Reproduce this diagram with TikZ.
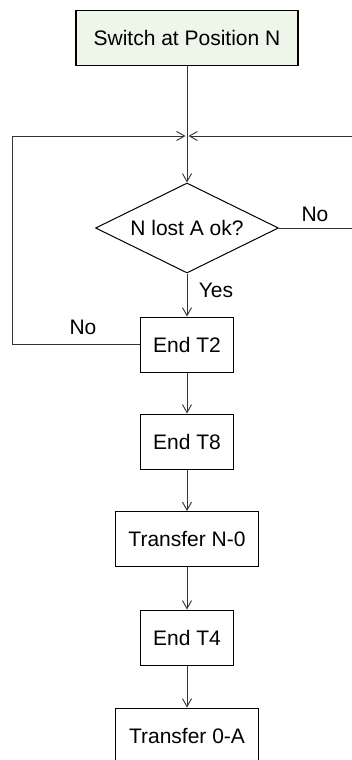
\documentclass[tikz,border=0pt]{standalone}
\usepackage{fontspec}
\setmainfont{Liberation Sans}
\usetikzlibrary{shapes.geometric,arrows.meta}
\definecolor{startfill}{RGB}{238,246,233}
\definecolor{linecol}{RGB}{51,51,51}
\begin{document}
\begin{tikzpicture}[x=1pt,y=-1pt,
  every node/.style={font=\fontsize{21}{25}\selectfont, text=black},
  procbox/.style={draw=black, line width=1pt, rectangle, inner sep=0pt, minimum height=55pt},
  startbox/.style={procbox, fill=startfill, line width=1.2pt, minimum width=222pt},
  decbox/.style={draw=black, line width=1pt, diamond, aspect=2.03, inner sep=0pt, minimum width=183pt, minimum height=90pt},
  conn/.style={draw=linecol, line width=0.9pt, -{Straight Barb[length=8pt,width=9pt]}},
  lbl/.style={inner sep=0pt}]
\useasboundingbox (0,0) rectangle (351,760);
\node[startbox] (start) at (187,38) {Switch at Position N};
\node[decbox] (dec) at (187,228) {N lost A ok?};
\node[procbox, minimum width=93pt] (t2) at (187,344.5) {End T2};
\node[procbox, minimum width=93pt] (t8) at (187,441.5) {End T8};
\node[procbox, minimum width=143pt] (tn0) at (187,539) {Transfer N-0};
\node[procbox, minimum width=93pt] (t4) at (187,637.5) {End T4};
\node[procbox, minimum width=143pt] (t0a) at (187,735.5) {Transfer 0-A};
\coordinate (jl) at (185.5,136);
\coordinate (jr) at (188.5,136);
\coordinate (lc1) at (12,344.5);
\coordinate (lc2) at (12,136);
\coordinate (rc1) at (370,228);
\coordinate (rc2) at (370,136);
\draw[conn] (start.south) -- (dec.north);
\draw[conn] (dec.south) -- (t2.north);
\draw[conn] (t2.south) -- (t8.north);
\draw[conn] (t8.south) -- (tn0.north);
\draw[conn] (tn0.south) -- (t4.north);
\draw[conn] (t4.south) -- (t0a.north);
\draw[conn] (t2.west) -- (lc1) -- (lc2) -- (jl);
\draw[conn] (dec.east) -- (rc1) -- (rc2) -- (jr);
\node[lbl] (yes) at (216,290) {Yes};
\node[lbl] (noright) at (315,214) {No};
\node[lbl] (noleft) at (83,327) {No};
\end{tikzpicture}
\end{document}
